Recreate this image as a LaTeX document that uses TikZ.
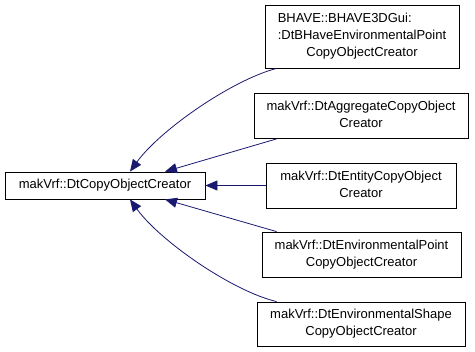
\documentclass[tikz,border=0pt]{standalone}
\usepackage{fontspec}
\setmainfont{Liberation Sans}
\usetikzlibrary{arrows.meta,positioning}

\definecolor{edgeblue}{HTML}{191970}
\newcommand{\splitlabel}[2]{\begin{tabular}{@{}l@{}}#1\\\multicolumn{1}{@{}c@{}}{#2}\end{tabular}}
\newcommand{\splitlabeltwo}[3]{\begin{tabular}{@{}l@{}}#1\\#2\\\multicolumn{1}{@{}c@{}}{#3}\end{tabular}}

\begin{document}
\begin{tikzpicture}[x=1pt,y=-1pt,
		classbox/.style={draw=black,line width=0.8pt,inner sep=0pt,
			font=\fontsize{13}{17}\selectfont},
		inherit/.style={draw=edgeblue,line width=0.8pt,
			arrows = {Triangle[length=12pt,width=10pt,fill=edgeblue]-}}]
	\useasboundingbox (0,0) rectangle (475,352);
	% base class
	\node[classbox,minimum width=200pt,minimum height=27pt] (base) at (105,185.5) {makVrf::DtCopyObjectCreator};
	% derived classes
	\node[classbox,minimum width=194pt,minimum height=63pt] (bhave) at (362,36.5)
		{\splitlabeltwo{BHAVE::BHAVE3DGui:}{:DtBHaveEnvironmentalPoint}{CopyObjectCreator}};
	\node[classbox,minimum width=214pt,minimum height=45pt] (aggr) at (361,116)
		{\splitlabel{makVrf::DtAggregateCopyObject}{Creator}};
	\node[classbox,minimum width=190pt,minimum height=45pt] (entity) at (361,185.5)
		{\splitlabel{makVrf::DtEntityCopyObject}{Creator}};
	\node[classbox,minimum width=199pt,minimum height=45pt] (envpt) at (361.5,254.5)
		{\splitlabel{makVrf::DtEnvironmentalPoint}{CopyObjectCreator}};
	\node[classbox,minimum width=208pt,minimum height=44pt] (envsh) at (361,324)
		{\splitlabel{makVrf::DtEnvironmentalShape}{CopyObjectCreator}};
	% inheritance edges
	\draw[inherit] ([xshift=25pt]base.north) .. controls (160,130) and (232,80) .. ([xshift=12pt]bhave.south west);
	\draw[inherit] ([xshift=60pt]base.north) -- ([xshift=23pt]aggr.south west);
	\draw[inherit] (base.east) -- (entity.west);
	\draw[inherit] ([xshift=60pt]base.south) -- ([xshift=15pt]envpt.north west);
	\draw[inherit] ([xshift=25pt]base.south) .. controls (160,241) and (232,291) .. ([xshift=20pt]envsh.north west);
\end{tikzpicture}
\end{document}
